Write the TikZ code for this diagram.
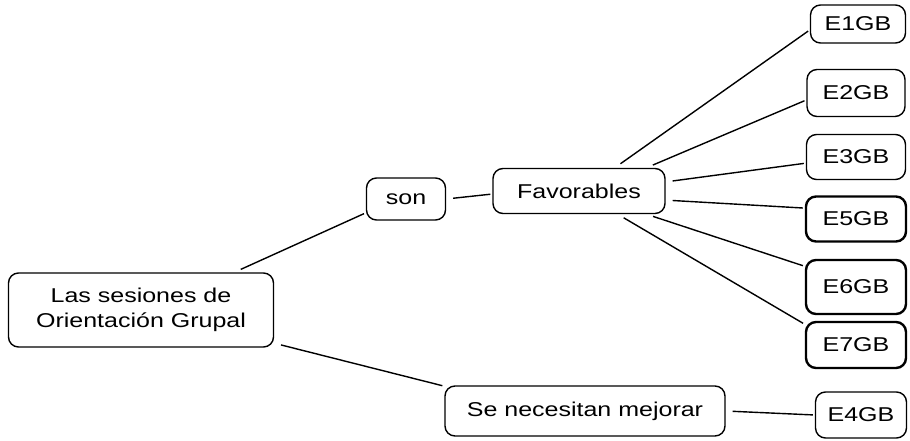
\documentclass[tikz,border=0pt]{standalone}
\usepackage{fontspec}
\setmainfont{Liberation Sans}[FakeStretch=1.25]

\begin{document}
\begin{tikzpicture}[x=1pt, y=1pt,
    box/.style={draw, rounded corners=10pt, line width=1.4pt, align=center, inner sep=0pt, font=\fontsize{20}{25}\selectfont},
    bold/.style={box, line width=2.4pt},
    link/.style={line width=1.4pt, shorten <=7pt, shorten >=2pt}]
    \useasboundingbox (0,0) rectangle (910,440);
    \node[box, minimum width=265pt, minimum height=74pt] (1) at (141,130) {Las sesiones de\\Orientación Grupal};
    \node[box, minimum width=79pt, minimum height=42pt] (2) at (406,241) {son};
    \node[box, minimum width=172pt, minimum height=45pt] (3) at (579,249) {Favorables};
    \node[box, minimum width=280pt, minimum height=50pt] (4) at (585,29) {Se necesitan mejorar};
    \node[box, minimum width=95pt, minimum height=38pt] (5) at (858,416) {E1GB};
    \node[box, minimum width=98pt, minimum height=47pt] (6) at (856,347) {E2GB};
    \node[box, minimum width=99pt, minimum height=45pt] (7) at (856,283) {E3GB};
    \node[bold, minimum width=100pt, minimum height=45pt] (8) at (856,221) {E5GB};
    \node[bold, minimum width=100pt, minimum height=54pt] (9) at (856,153) {E6GB};
    \node[bold, minimum width=100pt, minimum height=46pt] (10) at (856,95) {E7GB};
    \node[box, minimum width=91pt, minimum height=46pt] (11) at (861,25) {E4GB};
    \path[link] (1.22) edge (2.199);
    \path[link] (1.-14) edge (4.170);
    \path[link] (2.east) edge (3.182);
    \path[link] (3.33) edge (5.187);
    \path[link] (3.19) edge (6.188);
    \path[link] (3.6) edge (7.187);
    \path[link] (3.-6) edge (8.168);
    \path[link] (3.-19) edge (9.158);
    \path[link] (3.-31) edge (10.158);
    \path[link] (4.east) edge (11.west);
\end{tikzpicture}
\end{document}
